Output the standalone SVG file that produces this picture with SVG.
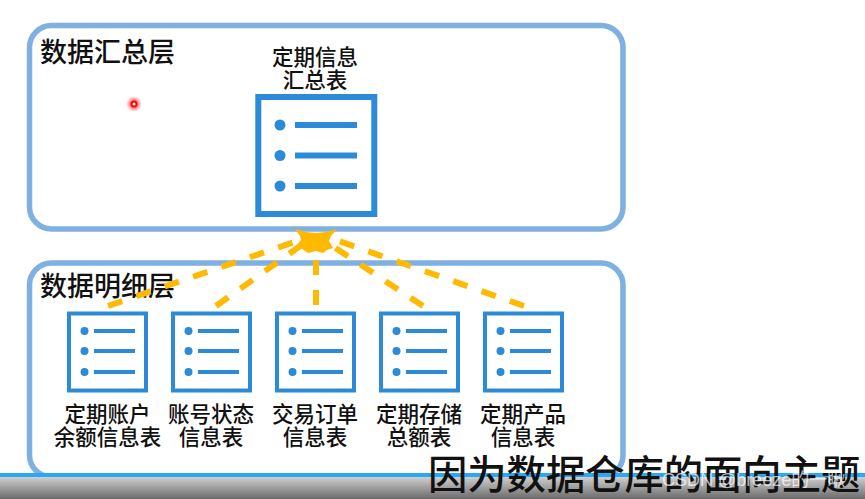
<svg xmlns="http://www.w3.org/2000/svg" width="865" height="499" viewBox="0 0 865 499">
<style>
.panel{fill:#fff;stroke:#7fb0e2;stroke-width:5.5}
.box{fill:#fff;stroke:#2b8bd8}
.bar{stroke:#2b8bd8;stroke-linecap:butt}
.dot{fill:#2b8bd8}
.t{font-family:"Noto Sans CJK SC","Liberation Serif",serif;fill:#111;text-anchor:middle}
.lbl{font-size:21.500px;font-weight:500}
.ttl{font-size:27px;font-weight:500;text-anchor:start}
.conn{fill:none;stroke:#ffb900;stroke-width:6;stroke-dasharray:15 15}
</style>
<defs>
<linearGradient id="g" x1="0" y1="0" x2="0" y2="1"><stop offset="0" stop-color="#cfcfcf"/><stop offset="1" stop-color="#6a6a6a"/></linearGradient>
<radialGradient id="r"><stop offset="0.3" stop-color="#ff3030" stop-opacity=".8"/><stop offset="1" stop-color="#ff3030" stop-opacity="0"/></radialGradient>
<g id="big"><rect x="258.300" y="97" width="116" height="117" class="box" stroke-width="6"/><circle cx="280" cy="125" r="5.500" class="dot"/><circle cx="280" cy="155.500" r="5.500" class="dot"/><circle cx="280" cy="186" r="5.500" class="dot"/><path class="bar" stroke-width="6" d="M295 125H357M295 155.500H357M295 186H357"/></g>
<g id="small"><rect x="69" y="313.500" width="77" height="77" class="box" stroke-width="4"/><circle cx="84.500" cy="331" r="4" class="dot"/><circle cx="84.500" cy="351" r="4" class="dot"/><circle cx="84.500" cy="372" r="4" class="dot"/><path class="bar" stroke-width="4" d="M94 331H135M94 351H135M94 372H135"/></g>
</defs>
<rect width="865" height="499" fill="#fff"/>
<g id="panel-summary"><rect x="29.500" y="25.500" width="593.500" height="203.500" rx="22" class="panel"/><text class="t ttl" x="40" y="62">数据汇总层</text></g>
<g id="panel-detail"><rect x="29.500" y="263" width="593.500" height="214" rx="22" class="panel"/><text class="t ttl" x="40" y="296">数据明细层</text></g>
<g id="connectors">
<path class="conn" d="M108 306L300 240"/>
<path class="conn" d="M216 306L303 244"/>
<path class="conn" d="M316 305V260"/>
<path class="conn" d="M423 306L334 247"/>
<path class="conn" d="M524 306L336 240"/>
<path d="M295 229L306 232L316 233L326 232L337 229L331 236L329 241L333 248L327 250L323 253L316 251L308 253L305 251L301 248L298 244L301 240L300 236Z" fill="#ffb900"/>
</g>
<g id="node-summary"><use href="#big"/><text class="t lbl" x="315" y="65">定期信息</text><text class="t lbl" x="315" y="88">汇总表</text></g>
<g id="node-1"><use href="#small"/><text class="t lbl" x="107.500" y="422">定期账户</text><text class="t lbl" x="107.500" y="445">余额信息表</text></g>
<g id="node-2"><use href="#small" x="104"/><text class="t lbl" x="211" y="422">账号状态</text><text class="t lbl" x="211" y="445">信息表</text></g>
<g id="node-3"><use href="#small" x="208"/><text class="t lbl" x="315" y="422">交易订单</text><text class="t lbl" x="315" y="445">信息表</text></g>
<g id="node-4"><use href="#small" x="312"/><text class="t lbl" x="419" y="422">定期存储</text><text class="t lbl" x="419" y="445">总额表</text></g>
<g id="node-5"><use href="#small" x="416"/><text class="t lbl" x="523" y="422">定期产品</text><text class="t lbl" x="523" y="445">信息表</text></g>
<circle cx="134" cy="104" r="8" fill="url(#r)"/><circle cx="134" cy="104" r="2.500" fill="#fff" stroke="#f00" stroke-width="2"/>
<rect y="477" width="865" height="22" fill="url(#g)"/>
<rect y="473" width="865" height="4" fill="#2aa8f5"/>
<text x="428" y="489" font-family="'Noto Sans CJK SC','Liberation Serif',serif" font-size="39.300" font-weight="500" fill="#111">因为数据仓库的面向主题</text>
<text x="662" y="486" font-family="'Liberation Sans','Noto Sans CJK SC',sans-serif" font-size="18" fill="#fff" fill-opacity=".7">CSDN @breeze的一瞅</text>
</svg>
